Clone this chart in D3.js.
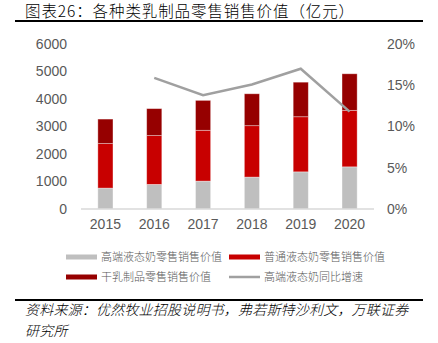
<!DOCTYPE html>
<html>
<head>
<meta charset="utf-8">
<script src="https://cdn.jsdelivr.net/npm/d3@7"></script>
<style>
  html, body { margin: 0; padding: 0; background: #fff; }
  svg { display: block; }
</style>
</head>
<body>
<svg id="chart" width="438" height="343"></svg>
<script>
// Retail sales value by dairy category (100 million CNY)
const years = ["2015", "2016", "2017", "2018", "2019", "2020"];
const premiumLiquid = [760, 895, 1014, 1160, 1351, 1533];
const regularLiquid = [1620, 1775, 1848, 1870, 2004, 2054];
const dryDairy = [890, 980, 1088, 1160, 1257, 1330];
// Year-on-year growth of premium liquid milk (from 2016)
const growthYears = ["2016", "2017", "2018", "2019", "2020"];
const premiumGrowth = [0.159, 0.138, 0.151, 0.170, 0.118];
const leftTicks = [0, 1000, 2000, 3000, 4000, 5000, 6000];
const rightTicks = [0, 0.05, 0.10, 0.15, 0.20];

const seriesNames = ["高端液态奶零售销售价值", "普通液态奶零售销售价值", "干乳制品零售销售价值"];
const seriesColors = ["#BFBFBF", "#C80000", "#960000"];
const lineName = "高端液态奶同比增速";
const lineColor = "#A0A0A0";

const svg = d3.select("#chart");
const numFont = "'Liberation Sans', Arial, sans-serif";
const cjkFont = "'Noto Sans CJK SC', sans-serif";

// Title and rules
svg.append("text")
  .attr("x", 25).attr("y", 17)
  .attr("font-family", cjkFont).attr("font-size", 15.5).attr("font-weight", 300)
  .attr("letter-spacing", 0.9)
  .attr("fill", "#000")
  .text("图表26：各种类乳制品零售销售价值（亿元）");
svg.append("line").attr("x1", 15).attr("x2", 423).attr("y1", 21).attr("y2", 21)
  .attr("stroke", "#000").attr("stroke-width", 2);
svg.append("line").attr("x1", 15).attr("x2", 423).attr("y1", 300).attr("y2", 300)
  .attr("stroke", "#000").attr("stroke-width", 2);

// Scales
const x = d3.scaleBand().domain(years).range([81, 374]).paddingInner(0.69).paddingOuter(0.345);
const yL = d3.scaleLinear().domain([0, 6000]).range([209, 44]);
const yR = d3.scaleLinear().domain([0, 0.2]).range([209, 44]);

// Axes (labels only)
const axL = svg.append("g").attr("transform", "translate(67,0)")
  .call(d3.axisLeft(yL).tickValues(leftTicks).tickSize(0).tickPadding(0).tickFormat(d3.format("d")));
const axR = svg.append("g").attr("transform", "translate(387,0)")
  .call(d3.axisRight(yR).tickValues(rightTicks).tickSize(0).tickPadding(0).tickFormat(d3.format(".0%")));
[axL, axR].forEach(a => {
  a.select(".domain").remove();
  a.selectAll("text").attr("font-family", numFont).attr("font-size", 14).attr("fill", "#595959");
});

// Stacked bars
const rows = years.map((yr, i) => ({ year: yr, a: premiumLiquid[i], b: regularLiquid[i], c: dryDairy[i] }));
const stack = d3.stack().keys(["a", "b", "c"])(rows);
svg.append("g").selectAll("g").data(stack).join("g")
  .attr("fill", (d, i) => seriesColors[i])
  .selectAll("rect").data(d => d).join("rect")
  .attr("x", d => x(d.data.year))
  .attr("width", x.bandwidth())
  .attr("y", d => yL(d[1]))
  .attr("height", d => yL(d[0]) - yL(d[1]))
  .attr("stroke", "#fff").attr("stroke-opacity", 0.45).attr("stroke-width", 0.8);

// Category axis baseline and labels
svg.append("line").attr("x1", 81).attr("x2", 374).attr("y1", 209).attr("y2", 209)
  .attr("stroke", "#D9D9D9").attr("stroke-width", 1.5);
const axB = svg.append("g").attr("transform", "translate(0,209)")
  .call(d3.axisBottom(x).tickSize(0).tickPadding(10));
axB.select(".domain").remove();
axB.selectAll("text").attr("font-family", numFont).attr("font-size", 14).attr("fill", "#595959");

// Growth line
const line = d3.line()
  .x((d, i) => x(growthYears[i]) + x.bandwidth() / 2)
  .y(d => yR(d));
svg.append("path").datum(premiumGrowth)
  .attr("d", line).attr("fill", "none")
  .attr("stroke", lineColor).attr("stroke-width", 2.5);

// Legend
const legendItems = [
  { name: seriesNames[0], color: seriesColors[0], x: 66, y: 257, h: 5 },
  { name: seriesNames[1], color: seriesColors[1], x: 229, y: 257, h: 5 },
  { name: seriesNames[2], color: seriesColors[2], x: 66, y: 277, h: 5 },
  { name: lineName, color: lineColor, x: 229, y: 277, h: 2.5 }
];
const lg = svg.append("g").selectAll("g").data(legendItems).join("g")
  .attr("transform", d => `translate(${d.x},${d.y})`);
lg.append("rect").attr("x", 0).attr("y", d => -d.h / 2).attr("width", 31).attr("height", d => d.h)
  .attr("fill", d => d.color);
lg.append("text").attr("x", 35).attr("y", 4)
  .attr("font-family", cjkFont).attr("font-size", 11).attr("font-weight", 300)
  .attr("fill", "#595959")
  .text(d => d.name);

// Source note
const src = svg.append("g").attr("font-family", cjkFont).attr("font-size", 14)
  .attr("font-weight", 300).attr("letter-spacing", 0.2)
  .attr("font-style", "italic").attr("fill", "#000");
src.append("text").attr("x", 25).attr("y", 315).text("资料来源：优然牧业招股说明书，弗若斯特沙利文，万联证券");
src.append("text").attr("x", 25).attr("y", 336).text("研究所");
</script>
</body>
</html>
